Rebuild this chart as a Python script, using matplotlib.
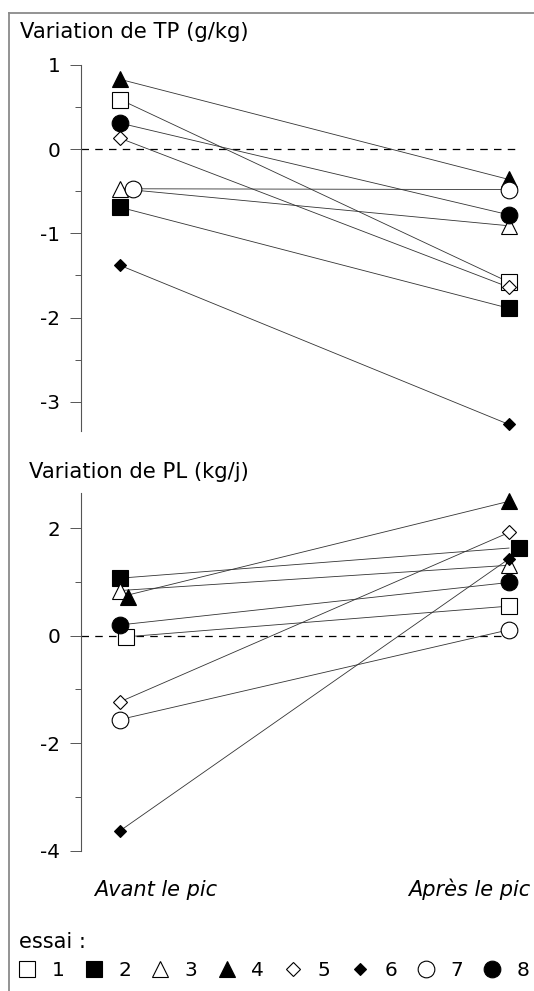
import matplotlib
matplotlib.use("Agg")
import matplotlib.pyplot as plt
import matplotlib.transforms as mtransforms
from matplotlib.lines import Line2D
from matplotlib.ticker import MultipleLocator

plt.rcParams['font.family'] = ['DejaVu Sans']
plt.rcParams['axes.unicode_minus'] = False

# ---- data ----
essais   = ['1', '2', '3', '4', '5', '6', '7', '8']
periodes = ['Avant le pic', 'Après le pic']
tp_avant = [0.59, -0.69, -0.47, 0.83, 0.13, -1.38, -0.47, 0.31]
tp_apres = [-1.58, -1.89, -0.91, -0.36, -1.64, -3.27, -0.48, -0.78]
pl_avant = [-0.03, 1.07, 0.84, 0.72, -1.23, -3.63, -1.56, 0.20]
pl_apres = [0.55, 1.63, 1.31, 2.50, 1.92, 1.43, 0.11, 0.99]

# ---- style ----
W, H = 534, 991
MARK = {  # marker, filled, size
    '1': ('s', False, 11.5),
    '2': ('s', True, 11.5),
    '3': ('^', False, 12),
    '4': ('^', True, 12),
    '5': ('D', False, 7),
    '6': ('D', True, 6),
    '7': ('o', False, 12),
    '8': ('o', True, 12),
}
# small horizontal shifts (pixels) used in the original to avoid overlaps
SHIFT_TP = {('7', 0): 13}
SHIFT_PL = {('4', 0): 8, ('1', 0): 6, ('2', 1): 10}
FS_TITLE = 15.2
FS_TICK = 14.4
FS_TXT = 15
FS_LEG = 14.5
LINE_C = '#333333'
AX_L = 80.5          # spine position (px)
X_AV, X_AP = 120, 509  # px of the two periods


def fx(px):
    return px / W


def fy(py):
    return 1 - py / H


def mk_style(e):
    m, filled, ms = MARK[e]
    return dict(marker=m, ms=ms, mec='black', mew=0.8,
                mfc='black' if filled else 'white', ls='none')


def panel(top, bottom, avant, apres, ylim, major, minor, shifts):
    ax = fig.add_axes([fx(AX_L), fy(bottom), 1 - fx(AX_L), (bottom - top) / H])
    unit = X_AP - X_AV
    ax.set_xlim(-(X_AV - AX_L) / unit, (W - X_AV) / unit)
    ax.set_ylim(*ylim)
    ax.axhline(0, xmin=0, xmax=0.96, color='black', lw=0.9,
               ls=(0, (6, 5)), zorder=1)
    for e, a, b in zip(essais, avant, apres):
        ax.plot([0, 1], [a, b], color=LINE_C, lw=0.6, zorder=2)
        for i, (xv, yv) in enumerate([(0, a), (1, b)]):
            dx = shifts.get((e, i), 0)
            tr = mtransforms.offset_copy(ax.transData, fig=fig, x=dx, y=0,
                                         units='dots')
            ax.plot([xv], [yv], transform=tr, clip_on=False, zorder=3,
                    **mk_style(e))
    for s in ['top', 'right', 'bottom']:
        ax.spines[s].set_visible(False)
    ax.spines['left'].set_color('#555555')
    ax.spines['left'].set_linewidth(0.8)
    ax.yaxis.set_major_locator(MultipleLocator(major))
    ax.yaxis.set_minor_locator(MultipleLocator(minor))
    ax.tick_params(axis='y', which='major', direction='out', length=7.7,
                   width=0.7, pad=7, labelsize=FS_TICK, color='#555555')
    ax.tick_params(axis='y', which='minor', direction='out', length=4.3,
                   width=0.7, color='#555555')
    ax.set_xticks([])
    ax.patch.set_alpha(0)
    return ax


fig = plt.figure(figsize=(W / 100, H / 100), dpi=100)

# top panel: TP
panel(65, 431.2, tp_avant, tp_apres, (-3.35, 1.0), 1, 0.5, SHIFT_TP)
fig.text(fx(20), fy(38.5), 'Variation de TP (g/kg)', fontsize=FS_TITLE,
         ha='left', va='baseline')

# bottom panel: PL
panel(492.7, 850.7, pl_avant, pl_apres, (-4.0, 2.66), 2, 1, SHIFT_PL)
fig.text(fx(29), fy(478), 'Variation de PL (kg/j)', fontsize=FS_TITLE,
         ha='left', va='baseline')

fig.text(fx(156), fy(895.5), periodes[0], fontsize=FS_TXT, style='italic',
         ha='center', va='baseline')
fig.text(fx(469), fy(895.5), periodes[1], fontsize=FS_TXT, style='italic',
         ha='center', va='baseline')

# legend
fig.text(fx(19), fy(948), 'essai :', fontsize=FS_TXT, ha='left',
         va='baseline')
handles = [Line2D([], [], **mk_style(e)) for e in essais]
fig.legend(handles, essais, ncol=8, loc='center left',
           bbox_to_anchor=(fx(17.1), fy(971)), frameon=False,
           fontsize=FS_LEG, handlelength=1.0, handletextpad=0.72,
           columnspacing=0.945, borderpad=0, borderaxespad=0)

# gray frame (top and left edges)
fig.add_artist(Line2D([fx(8.5), fx(8.5)], [0, fy(12.7)],
                      transform=fig.transFigure, color='#8a8a8a', lw=1.3))
fig.add_artist(Line2D([fx(8.5), 1], [fy(12.7), fy(12.7)],
                      transform=fig.transFigure, color='#8a8a8a', lw=1.3))

fig.savefig('out.png', dpi=100)
